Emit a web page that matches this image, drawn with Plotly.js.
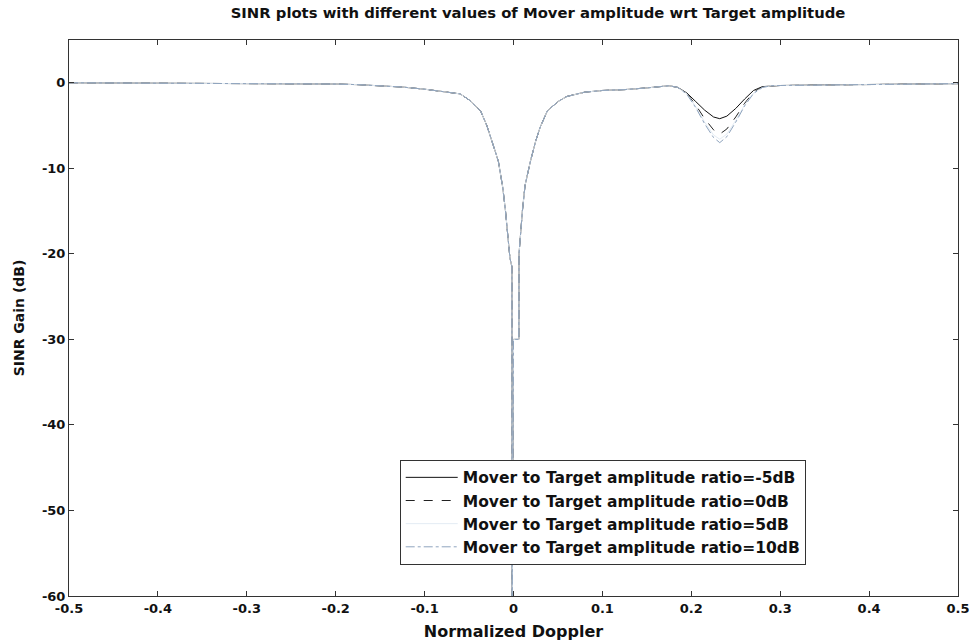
<!DOCTYPE html>
<html>
<head>
<meta charset="utf-8">
<script src="https://cdn.plot.ly/plotly-3.0.1.min.js"></script>
<style>
  html, body { margin: 0; padding: 0; background: #ffffff; }
  #chart { width: 975px; height: 644px; }
</style>
</head>
<body>
<div id="chart"></div>
<script>
// Normalized Doppler sample points (shared by every curve)
const doppler = [
  -0.5, -0.45, -0.4, -0.35, -0.3, -0.25, -0.2, -0.175, -0.15, -0.125,
  -0.1, -0.085, -0.07, -0.06, -0.05, -0.037, -0.03, -0.025, -0.02, -0.017,
  -0.015, -0.012, -0.009, -0.006, -0.004, -0.0018, -0.0015, 0.0, 0.006, 0.0062,
  0.008, 0.01, 0.013, 0.019, 0.025, 0.03, 0.038, 0.05, 0.06, 0.08,
  0.1, 0.125, 0.15, 0.165, 0.175, 0.185, 0.195, 0.205, 0.215, 0.225,
  0.232, 0.24, 0.25, 0.26, 0.27, 0.28, 0.29, 0.3, 0.35, 0.4,
  0.45, 0.5
];

// SINR gain (dB) for each mover-to-target amplitude ratio
const sinrMinus5dB = [
  0.0, -0.02, -0.05, -0.08, -0.1, -0.12, -0.15, -0.22, -0.33, -0.5,
  -0.75, -0.95, -1.15, -1.3, -2.0, -3.3, -5.0, -6.5, -8.2, -9.2,
  -10.5, -12.3, -15.0, -18.0, -20.5, -21.5, -62.0, -30.0, -30.0, -20.0,
  -17.0, -15.0, -12.0, -9.2, -6.8, -5.2, -3.3, -2.2, -1.6, -1.1,
  -0.9, -0.8, -0.6, -0.45, -0.35, -0.55, -1.2, -2.2, -3.2, -4.0,
  -4.2, -3.9, -3.0, -1.9, -0.9, -0.45, -0.35, -0.32, -0.25, -0.2,
  -0.15, -0.1
];
const sinr0dB = [
  0.0, -0.02, -0.05, -0.08, -0.1, -0.12, -0.15, -0.22, -0.33, -0.5,
  -0.75, -0.95, -1.15, -1.3, -2.0, -3.3, -5.0, -6.5, -8.2, -9.2,
  -10.5, -12.3, -15.0, -18.0, -20.5, -21.5, -62.0, -30.0, -30.0, -20.0,
  -17.0, -15.0, -12.0, -9.2, -6.8, -5.2, -3.3, -2.2, -1.6, -1.1,
  -0.9, -0.8, -0.6, -0.45, -0.35, -0.55, -1.25, -2.6, -4.2, -5.5,
  -6.0, -5.4, -4.0, -2.4, -1.1, -0.5, -0.35, -0.32, -0.25, -0.2,
  -0.15, -0.1
];
const sinr5dB = [
  0.0, -0.02, -0.05, -0.08, -0.1, -0.12, -0.15, -0.22, -0.33, -0.5,
  -0.75, -0.95, -1.15, -1.3, -2.0, -3.3, -5.0, -6.5, -8.2, -9.2,
  -10.5, -12.3, -15.0, -18.0, -20.5, -21.5, -62.0, -30.0, -30.0, -20.0,
  -17.0, -15.0, -12.0, -9.2, -6.8, -5.2, -3.3, -2.2, -1.6, -1.1,
  -0.9, -0.8, -0.6, -0.45, -0.35, -0.55, -1.3, -2.8, -4.6, -6.1,
  -6.6, -6.0, -4.4, -2.6, -1.2, -0.55, -0.35, -0.32, -0.25, -0.2,
  -0.15, -0.1
];
const sinr10dB = [
  0.0, -0.02, -0.05, -0.08, -0.1, -0.12, -0.15, -0.22, -0.33, -0.5,
  -0.75, -0.95, -1.15, -1.3, -2.0, -3.3, -5.0, -6.5, -8.2, -9.2,
  -10.5, -12.3, -15.0, -18.0, -20.5, -21.5, -62.0, -30.0, -30.0, -20.0,
  -17.0, -15.0, -12.0, -9.2, -6.8, -5.2, -3.3, -2.2, -1.6, -1.1,
  -0.9, -0.8, -0.6, -0.45, -0.35, -0.55, -1.35, -2.9, -4.8, -6.4,
  -7.0, -6.3, -4.6, -2.7, -1.25, -0.55, -0.35, -0.32, -0.25, -0.2,
  -0.15, -0.1
];

const seriesNames = [
  'Mover to Target amplitude ratio=-5dB',
  'Mover to Target amplitude ratio=0dB',
  'Mover to Target amplitude ratio=5dB',
  'Mover to Target amplitude ratio=10dB'
];

const xTicks = [-0.5, -0.4, -0.3, -0.2, -0.1, 0, 0.1, 0.2, 0.3, 0.4, 0.5];
const xTickText = ['-0.5', '-0.4', '-0.3', '-0.2', '-0.1', '0', '0.1', '0.2', '0.3', '0.4', '0.5'];
const yTicks = [-60, -50, -40, -30, -20, -10, 0];
const yTickText = ['-60', '-50', '-40', '-30', '-20', '-10', '0'];

const styles = [
  { color: '#111111', dash: 'solid' },
  { color: '#222222', dash: 'dash' },
  { color: '#e4ecf4', dash: 'solid' },
  { color: '#8fa4be', dash: 'dashdot' }
];
const values = [sinrMinus5dB, sinr0dB, sinr5dB, sinr10dB];

const traces = values.map((y, i) => ({
  type: 'scatter',
  mode: 'lines',
  x: doppler,
  y: y,
  name: seriesNames[i],
  line: { color: styles[i].color, dash: styles[i].dash, width: 1 },
  hoverinfo: 'skip'
}));

const family = 'DejaVu Sans, Arial, sans-serif';

const axisCommon = {
  showgrid: false,
  zeroline: false,
  showline: true,
  linecolor: '#333333',
  linewidth: 1,
  mirror: 'ticks',
  ticks: 'inside',
  ticklen: 5,
  tickcolor: '#333333',
  tickfont: { family: family, size: 13, color: '#111111', weight: 'bold' }
};

const layout = {
  width: 975,
  height: 644,
  paper_bgcolor: '#ffffff',
  plot_bgcolor: '#ffffff',
  margin: { l: 69, r: 17, t: 40, b: 48 },
  showlegend: true,
  title: {
    text: 'SINR plots with different values of Mover amplitude wrt Target amplitude',
    font: { family: family, size: 14.8, color: '#111111', weight: 'bold' },
    x: 0.5276, xref: 'paper', xanchor: 'center',
    y: 0.98, yref: 'container', yanchor: 'middle'
  },
  xaxis: Object.assign({}, axisCommon, {
    range: [-0.5, 0.5],
    tickvals: xTicks,
    ticktext: xTickText,
    title: { text: 'Normalized Doppler', font: { family: family, size: 16, color: '#111111', weight: 'bold' }, standoff: 11 }
  }),
  yaxis: Object.assign({}, axisCommon, {
    range: [-60, 5],
    tickvals: yTicks,
    ticktext: yTickText,
    title: { text: 'SINR Gain (dB)', font: { family: family, size: 14, color: '#111111', weight: 'bold' }, standoff: 14 }
  }),
  legend: {
    x: 0.372, y: 0.245, xanchor: 'left', yanchor: 'top',
    bgcolor: '#ffffff',
    bordercolor: '#333333',
    borderwidth: 1,
    itemwidth: 52,
    font: { family: family, size: 15.5, color: '#111111', weight: 'bold' },
    tracegroupgap: 0
  }
};

Plotly.newPlot('chart', traces, layout, { displayModeBar: false, staticPlot: true });
</script>
</body>
</html>
